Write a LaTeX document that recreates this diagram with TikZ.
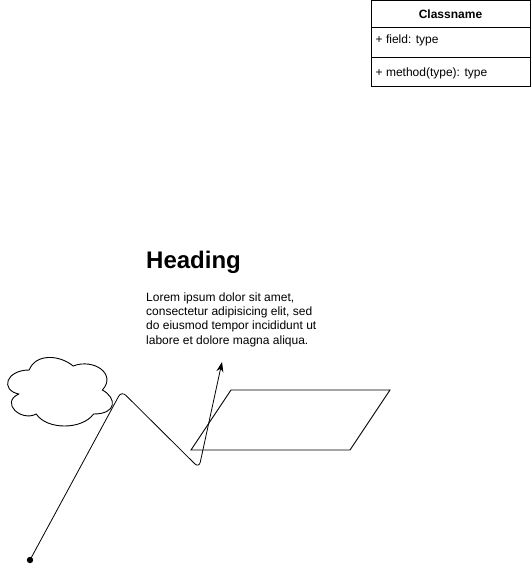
\documentclass[tikz,border=0pt]{standalone}
\usepackage{fontspec}
\setmainfont{Liberation Sans}
\usetikzlibrary{arrows.meta}
\begin{document}
\begin{tikzpicture}[x=1pt,y=-1pt,
  line/.style={draw=black,line width=0.9pt},
  txt/.style={inner sep=0pt,font=\fontsize{12}{14.4}\selectfont},
  classpart/.style={line,rectangle,minimum width=159pt,inner sep=0pt,outer sep=0pt},
]
\useasboundingbox[fill=white] (0,0) rectangle (531,570);

% class box
\node[classpart,minimum height=26.5pt,anchor=north west] (hdr) at (371,0.5) {};
\node[classpart,minimum height=30pt,anchor=north west] (fld) at (hdr.south west) {};
\node[classpart,minimum height=29.5pt,anchor=north west] (mth) at (fld.south west) {};
\node[txt,font=\fontsize{12}{14.4}\selectfont\bfseries] (cname) at (hdr.center) {Classname};
\node[txt,anchor=west] (ftxt) at (375.5,40) {+ field: type};
\node[txt,anchor=west] (mtxt) at (375.5,73) {+ method(type): type};

% heading + text
\node[txt,font=\fontsize{24}{28}\selectfont\bfseries,anchor=base west] (head) at (146,268) {Heading};
\node[txt,anchor=north west,align=left] (para) at (146,292.2) {Lorem ipsum dolor sit amet,\\consectetur adipisicing elit, sed\\do eiusmod tempor incididunt ut\\labore et dolore magna aliqua.};

% cloud (draw.io cloud shape)
\begin{scope}[shift={(0,350)},x=117pt,y=-80pt]
\draw[line] (0.25,0.25) .. controls (0.05,0.25) and (0,0.5) .. (0.16,0.55)
  .. controls (0,0.66) and (0.18,0.9) .. (0.31,0.8)
  .. controls (0.4,1) and (0.7,1) .. (0.8,0.8)
  .. controls (1,0.8) and (1,0.6) .. (0.875,0.5)
  .. controls (1,0.3) and (0.8,0.1) .. (0.625,0.2)
  .. controls (0.5,0.05) and (0.3,0.05) .. (0.25,0.25) -- cycle;
\coordinate (cloudc) at (0.5,0.5);
\end{scope}

% parallelogram
\coordinate (p1) at (231,390);
\coordinate (p2) at (390,390);
\coordinate (p3) at (350,450);
\coordinate (p4) at (191,450);
\draw[line] (p1) -- (p2) -- (p3) -- (p4) -- cycle;

% connector
\coordinate (start) at (30,560);
\coordinate (c1) at (121.5,391);
\coordinate (c2) at (199,468);
\coordinate (tip) at (222,362);
\fill (start) circle (3.2pt);
\draw[line,line width=0.8pt,rounded corners=6pt,-{Stealth[length=10pt,width=7pt]}] (start) -- (c1) -- (c2) -- (tip);
\end{tikzpicture}
\end{document}
